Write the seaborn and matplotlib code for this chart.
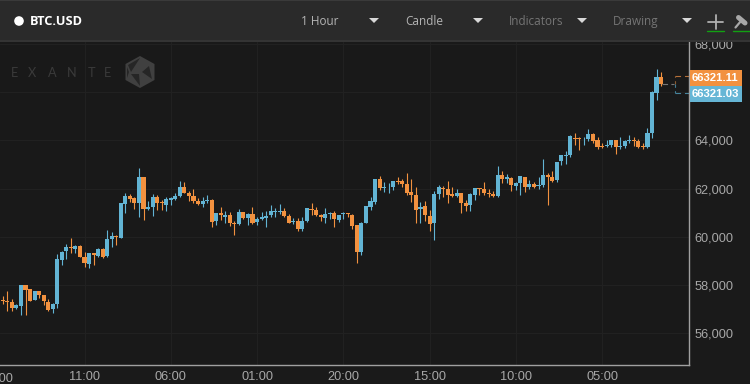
import numpy as np
import pandas as pd
import seaborn as sns
import matplotlib
matplotlib.use("Agg")
import matplotlib.pyplot as plt
from matplotlib.patches import Rectangle, Polygon, Circle

opens = [57380,57340,57300,57050,57130,58000,57820,57380,57740,57570,57300,57010,57210,59040,59400,59560,59480,59600,59180,58870,
         59320,59220,59490,59200,59910,60050,59950,61360,61690,61600,61390,62470,61150,61250,61640,61430,61320,61540,61580,61690,
         62080,61820,61690,61500,61360,61470,61540,60670,60970,60810,60890,60590,60530,61030,60770,60950,60620,60750,60790,60890,
         61030,61040,61060,60860,60620,60640,60310,60640,61170,61110,60900,60770,60950,61000,60700,60950,60970,60900,60480,59370,
         60590,61250,61440,62400,62040,62050,62080,62320,62320,62200,61850,61720,61150,61270,60860,60560,61760,62040,61970,61760,
         61690,61800,61390,61330,61750,62040,61970,61830,61780,61690,62550,62410,62440,62110,62250,62470,62050,62190,62110,62160,
         62550,62470,62360,63130,63370,63390,64110,64100,64040,64040,64250,64010,63780,63770,63800,64000,63710,63770,63960,64020,
         63960,63750,63710,64320,65980,66620]
closes = [57320,57280,57050,57160,58000,57790,57350,57740,57570,57320,56960,57210,59070,59380,59560,59520,59600,59180,58900,59320,
          59260,59490,59180,59900,60050,59980,61390,61690,61560,61390,62470,61140,61250,61670,61420,61390,61570,61620,61710,62080,
          61800,61690,61490,61360,61500,61540,60620,60970,60890,60890,60560,60530,61030,60770,60950,60560,60750,60840,60860,61060,
          61050,61060,60860,60560,60640,60310,60640,61180,61110,60890,60840,60950,61000,60730,60920,60990,60930,60450,59370,60590,
          61270,61500,62400,62030,62080,62080,62320,62270,62190,61830,61750,61110,61250,60890,60550,61760,62050,61970,61750,61690,
          61820,61390,61290,61780,62040,61980,61800,61780,61690,62550,62380,62470,62150,62250,62520,62080,62190,62080,62160,62550,
          62470,62300,63100,63380,63390,64170,64040,64040,64070,64250,63990,63740,63730,63800,64000,63710,63770,63980,64020,63960,
          63740,63730,64320,66010,66620,66320]
highs = [57540,57770,57410,57210,58020,58000,57850,57750,57740,57600,57410,57240,59290,59430,59700,59950,59670,59650,59370,59340,
         59320,59520,59520,60280,60200,60080,61420,61800,61780,61640,62860,62500,61500,61780,61720,61530,61670,61670,61800,62300,
         62270,61920,62000,61600,61640,61720,61560,61000,61220,61090,61030,60670,61170,61040,61000,61250,60840,61030,61090,61330,
         61180,61350,61210,60930,60790,60780,60810,61180,61420,61250,60950,61210,61030,61060,60920,61030,61000,60930,60480,60620,
         61280,61640,62410,62520,62270,62220,62330,62470,62410,62630,62380,62080,61440,61500,61110,61890,62160,62110,62300,62050,
         62000,61800,61530,61800,62040,62040,62270,61970,61890,62940,62740,62610,62500,62270,62520,62500,62360,62270,62470,63220,
         62630,62740,63100,63410,63570,64240,64290,64150,64150,64460,64320,64130,63880,64020,64020,64020,64130,64020,64210,64130,
         64040,63880,64520,66040,66950,66840]
lows = [57210,56940,56940,57020,56770,56770,57350,57380,57460,57190,56940,56830,57050,58820,59090,59340,59320,59150,58730,58710,
        58820,59180,59120,59180,59560,59650,59950,60970,61440,61140,60810,60700,61110,60860,61110,61110,61060,61330,61530,61640,
        61800,61500,61390,61330,61250,61390,60420,60480,60700,60560,60460,60060,60490,60750,60500,60530,60480,60700,60420,60810,
        60810,60950,60840,60560,60530,60260,60260,60620,60890,60860,60670,60590,60730,60420,60620,60730,60810,60340,58900,59250,
        60560,61110,61360,61940,61860,61830,61940,62190,62080,61750,61440,60590,60590,60640,60230,59870,61560,61670,61390,61670,
        61640,60970,61060,61060,61530,61750,61750,61640,61640,61670,62220,62220,61920,61940,61720,61860,61970,62030,61970,62050,
        61320,62270,62270,62990,63020,63330,63800,63600,63800,63960,63910,63660,63690,63710,63710,63440,63660,63690,63910,63770,
        63690,63630,63690,64100,65680,66260]
time_labels = ["11:00", "06:00", "01:00", "20:00", "15:00", "10:00", "05:00"]
first_label = "16:00"
price_ticks = [56000, 58000, 60000, 62000, 64000, 66000, 68000]
price_tick_labels = ["56,000", "58,000", "60,000", "62,000", "64,000", "", "68,000"]
ask_price = "66321.11"
bid_price = "66321.03"
last_price = 66321
menu_items = ["1 Hour", "Candle", "Indicators", "Drawing"]
brand_letters = ["E", "X", "A", "N", "T", "E"]

BG = "#191919"; UP = "#62b4d4"; DOWN = "#f2913f"; GRID = "#212121"; TXT = "#a8a8a8"
sns.set_theme(style="dark")
plt.rcParams["font.family"] = ["Liberation Sans", "DejaVu Sans"]

df = pd.DataFrame({"o": opens, "c": closes, "h": highs, "l": lows})
df["i"] = np.arange(len(df))
df["top"] = df[["o", "c"]].max(axis=1)
df["bot"] = df[["o", "c"]].min(axis=1)
df["up"] = df["c"] >= df["o"]

W, H = 750, 384
fig = plt.figure(figsize=(W / 100, H / 100), dpi=100, facecolor="#1a1a1a")
L, R, T, B = 0, 689, 42, 365
ax = fig.add_axes([L / W, 1 - B / H, (R - L) / W, (B - T) / H], facecolor=BG)

for is_up, col in [(True, UP), (False, DOWN)]:
    s = df[df["up"] == is_up]
    ax.vlines(s["i"], s["l"], s["h"], color=col, lw=0.8, zorder=3)
    sns.barplot(x=s["i"].to_numpy(), y=(s["top"] - s["bot"]).clip(lower=30).to_numpy(),
                bottom=s["bot"].to_numpy(), native_scale=True, color=col, saturation=1,
                width=0.9, errorbar=None, ax=ax, zorder=4, linewidth=0)

ax.set_xlim(-0.617, 151.15)
ax.set_ylim(68000 - (B - 44) * 41.494, 68000 + 2 * 41.494)
xt = [18 + 19 * k for k in range(len(time_labels))]
ax.set_xticks(xt, time_labels)
ax.set_yticks(price_ticks, price_tick_labels)
ax.yaxis.tick_right()
ax.grid(True, color=GRID, lw=0.8, zorder=0)
ax.set_axisbelow(True)
ax.tick_params(axis="both", length=0, colors=TXT, labelsize=9.2)
ax.tick_params(axis="x", pad=4)
ax.tick_params(axis="y", pad=4)
ax.set_xlabel(""); ax.set_ylabel("")
sns.despine(ax=ax, left=True, top=True, right=False, bottom=False)
ax.spines["bottom"].set_color("#a0a0a0"); ax.spines["bottom"].set_linewidth(1.0)
ax.spines["right"].set_color("#a0a0a0"); ax.spines["right"].set_linewidth(1.0)
ax.text(-1.3, -0.0125 - 4 / (B - T), first_label, transform=ax.get_xaxis_transform(), ha="center", va="top",
        color=TXT, fontsize=9.2, clip_on=False)

# last-price dashes, in data coordinates
xe = 151.15
ax.plot([145.3, 147.9], [last_price] * 2, color="#777777", lw=0.8, ls=(0, (5, 3)), zorder=2)
up_p, lo_p = last_price + 340, last_price - 370
ax.plot([148, 148], [last_price, up_p], color="#8a5a30", lw=0.8, ls=(0, (3, 3)), zorder=2)
ax.plot([148, 148], [last_price, lo_p], color="#3f7d96", lw=0.8, ls=(0, (3, 3)), zorder=2)
ax.plot([148, xe], [up_p, up_p], color="#b5703a", lw=0.8, ls=(0, (5, 3.5)), zorder=2)
ax.plot([148, xe], [lo_p, lo_p], color="#47849c", lw=0.8, ls=(0, (5, 3.5)), zorder=2)

# pixel overlay: header, watermark, price flags
ov = fig.add_axes([0, 0, 1, 1], facecolor="none", zorder=10)
ov.set_xlim(0, W); ov.set_ylim(H, 0); ov.axis("off")
ov.add_patch(Rectangle((0, 0), W, 40, color="#2a2a2a", lw=0))
ov.add_patch(Rectangle((0, 40), W, 2, color="#343434", lw=0))
ov.add_patch(Rectangle((0, 0), W, 1, color="#3a3a3a", lw=0))
ov.add_patch(Circle((19, 21), 4.8, color="white", lw=0))
ov.text(30, 21.5, "BTC.USD", color="white", fontsize=9.2, fontweight="bold", family="Open Sans", va="center")
menu_x = [301, 405, 509, 613]
menu_c = ["#b4b4b4", "#b4b4b4", "#757575", "#757575"]
tri_x = [374, 478, 582, 687]
for t, x, c, tx in zip(menu_items, menu_x, menu_c, tri_x):
    ov.text(x, 21.5, t, color=c, fontsize=8.5, family="Open Sans", va="center")
    ov.add_patch(Polygon([(tx - 5, 18), (tx + 5, 18), (tx, 23)], color="#d8d8d8", lw=0))
ov.plot([708, 723], [22, 22], color="#b0b0b0", lw=1.3)
ov.plot([715.5, 715.5], [15, 29], color="#b0b0b0", lw=1.3)
ov.plot([707, 724], [30.5, 30.5], color="#12a012", lw=1)
ov.plot([733, 750], [30.5, 30.5], color="#12a012", lw=1)
ov.plot([735.5, 741], [27.5, 21], color="#a8a8a8", lw=1.6)
ov.plot([738.5, 745], [17.5, 23], color="#a8a8a8", lw=3.6)

letter_x = [15, 32.5, 52.5, 72, 91.5, 107.5]
for ch, x in zip(brand_letters, letter_x):
    ov.text(x, 72.7, ch, color="#3a3a3a", fontsize=9.2, ha="center", va="center", family="Lato")
hx = [(140, 56), (154.5, 64), (154.5, 80), (140, 88), (125.5, 80), (125.5, 64)]
ov.add_patch(Polygon(hx, color="#404040", lw=0))
for tri in [[(140, 58), (131, 72), (128, 65)], [(142, 72), (152, 79), (149, 66)], [(131, 74), (140, 86), (139, 74)],
            [(127, 67), (129, 72), (127, 78)]]:
    ov.add_patch(Polygon(tri, color="#262626", lw=0))

ov.add_patch(Rectangle((689.5, 70), 52.5, 15.8, color="#f2913f", lw=0))
ov.add_patch(Rectangle((689.5, 85.8), 52.5, 16, color="#66b6d6", lw=0))
ov.text(715.5, 78, ask_price, color="white", fontsize=8.2, fontweight="bold", ha="center", va="center")
ov.text(715.5, 94, bid_price, color="white", fontsize=8.2, fontweight="bold", ha="center", va="center")

fig.savefig("out.png", dpi=100, facecolor=fig.get_facecolor())
